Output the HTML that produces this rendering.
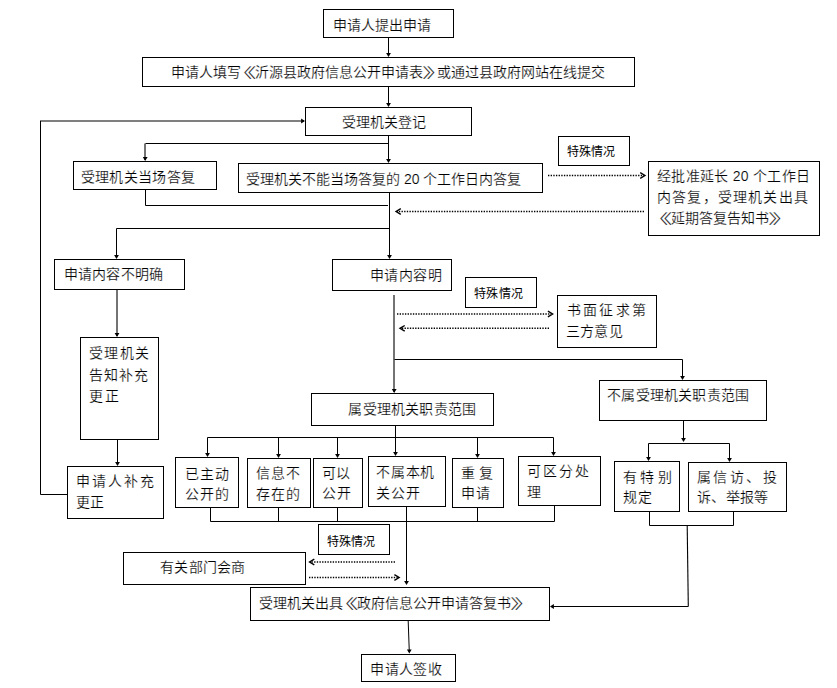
<!DOCTYPE html><html lang="zh-CN"><head><meta charset="utf-8"><title>flow</title><style>
html,body{margin:0;padding:0;background:#fff;}
#c{position:relative;width:837px;height:688px;overflow:hidden;background:#fff;font-family:"Liberation Sans",sans-serif;color:#000;}
.b{position:absolute;box-sizing:border-box;border:1px solid #000;background:#fff;}
.t{position:absolute;white-space:pre;line-height:20px;height:20px;}
.f14{font-size:14px;}.f12{font-size:12px;}.t{-webkit-text-stroke:0.2px #fff;}.f12{-webkit-text-stroke:0;}
.lq,.rq{display:inline-block;width:14px;letter-spacing:0;}.lq{transform:scaleX(1.9);transform-origin:12.3px 50%;}.rq{transform:scaleX(1.9);transform-origin:1.5px 50%;}
svg{position:absolute;left:0;top:0;}
</style></head><body><div id="c">
<svg width="837" height="688" viewBox="0 0 837 688"><line x1="388.5" y1="38" x2="388.5" y2="56" stroke="#000" stroke-width="1"/><line x1="388.5" y1="87" x2="388.5" y2="106" stroke="#000" stroke-width="1"/><line x1="40.5" y1="494.5" x2="67" y2="494.5" stroke="#000" stroke-width="1"/><line x1="40.5" y1="121" x2="40.5" y2="494.5" stroke="#000" stroke-width="1"/><line x1="40" y1="121" x2="304" y2="121" stroke="#000" stroke-width="1.1"/><line x1="388.5" y1="136" x2="388.5" y2="162" stroke="#000" stroke-width="1"/><line x1="145.5" y1="143.5" x2="388.5" y2="143.5" stroke="#000" stroke-width="1"/><line x1="145" y1="143.5" x2="145" y2="160" stroke="#000" stroke-width="1.1"/><line x1="145.5" y1="190" x2="145.5" y2="205.5" stroke="#000" stroke-width="1"/><line x1="145.5" y1="205.5" x2="388" y2="205.5" stroke="#000" stroke-width="1"/><line x1="389.5" y1="193" x2="389.5" y2="258" stroke="#000" stroke-width="1"/><line x1="116.5" y1="228.5" x2="389.5" y2="228.5" stroke="#000" stroke-width="1"/><line x1="116.5" y1="228.5" x2="116.5" y2="258" stroke="#000" stroke-width="1"/><line x1="548" y1="175.5" x2="644" y2="175.5" stroke="#000" stroke-width="1.4" stroke-dasharray="1.35 1.3"/><line x1="644" y1="211.5" x2="397" y2="211.5" stroke="#000" stroke-width="1.4" stroke-dasharray="1.35 1.3"/><line x1="117" y1="290" x2="117" y2="336" stroke="#000" stroke-width="1.1"/><line x1="117.5" y1="440" x2="117.5" y2="465" stroke="#000" stroke-width="1"/><line x1="394" y1="295" x2="394" y2="392" stroke="#000" stroke-width="1.1"/><line x1="397" y1="314" x2="551" y2="314" stroke="#000" stroke-width="1.4" stroke-dasharray="1.35 1.3"/><line x1="549" y1="328.3" x2="401" y2="328.3" stroke="#000" stroke-width="1.4" stroke-dasharray="1.35 1.3"/><line x1="394.5" y1="359.5" x2="682.5" y2="359.5" stroke="#000" stroke-width="1"/><line x1="682.5" y1="359.5" x2="682.5" y2="379" stroke="#000" stroke-width="1"/><line x1="395.5" y1="426" x2="395.5" y2="455" stroke="#000" stroke-width="1"/><line x1="207.5" y1="437.5" x2="553.5" y2="437.5" stroke="#000" stroke-width="1"/><line x1="207.5" y1="437.5" x2="207.5" y2="456" stroke="#000" stroke-width="1"/><line x1="278.5" y1="437.5" x2="278.5" y2="457" stroke="#000" stroke-width="1"/><line x1="337.5" y1="437.5" x2="337.5" y2="457" stroke="#000" stroke-width="1"/><line x1="477.5" y1="437.5" x2="477.5" y2="457" stroke="#000" stroke-width="1"/><line x1="553.5" y1="437.5" x2="553.5" y2="455" stroke="#000" stroke-width="1"/><line x1="210.5" y1="508" x2="210.5" y2="521.5" stroke="#000" stroke-width="1"/><line x1="278.5" y1="508" x2="278.5" y2="521.5" stroke="#000" stroke-width="1"/><line x1="337.5" y1="508" x2="337.5" y2="521.5" stroke="#000" stroke-width="1"/><line x1="477.5" y1="508" x2="477.5" y2="521.5" stroke="#000" stroke-width="1"/><line x1="554.5" y1="506" x2="554.5" y2="521.5" stroke="#000" stroke-width="1"/><line x1="210.5" y1="521.5" x2="554.5" y2="521.5" stroke="#000" stroke-width="1"/><line x1="406.5" y1="507" x2="406.5" y2="584" stroke="#000" stroke-width="1"/><line x1="683.5" y1="421" x2="683.5" y2="441" stroke="#000" stroke-width="1"/><line x1="648.5" y1="443.5" x2="729.5" y2="443.5" stroke="#000" stroke-width="1"/><line x1="648.5" y1="443.5" x2="648.5" y2="460" stroke="#000" stroke-width="1"/><line x1="729.5" y1="443.5" x2="729.5" y2="461" stroke="#000" stroke-width="1"/><line x1="649.5" y1="512" x2="649.5" y2="525.5" stroke="#000" stroke-width="1"/><line x1="733.5" y1="512" x2="733.5" y2="525.5" stroke="#000" stroke-width="1"/><line x1="649.5" y1="525.5" x2="733.5" y2="525.5" stroke="#000" stroke-width="1"/><line x1="687.2" y1="525.5" x2="688.3" y2="606.5" stroke="#000" stroke-width="1.1"/><line x1="688.3" y1="606.5" x2="551" y2="606.5" stroke="#000" stroke-width="1"/><line x1="395" y1="562" x2="311" y2="562" stroke="#000" stroke-width="1.4" stroke-dasharray="1.35 1.3"/><line x1="309" y1="577.5" x2="398" y2="577.5" stroke="#000" stroke-width="1.4" stroke-dasharray="1.35 1.3"/><line x1="408.2" y1="621" x2="409.3" y2="652" stroke="#000" stroke-width="1"/><polygon points="388.5,57.0 386.1,53.1 390.9,53.1" fill="#000"/><polygon points="388.5,107.0 386.1,103.1 390.9,103.1" fill="#000"/><polygon points="305.0,121.0 301.1,118.6 301.1,123.4" fill="#000"/><polygon points="388.5,163.0 386.1,159.1 390.9,159.1" fill="#000"/><polygon points="145.2,161.0 142.8,157.1 147.6,157.1" fill="#000"/><polygon points="389.5,259.0 387.1,255.1 391.9,255.1" fill="#000"/><polygon points="116.5,259.0 114.1,255.1 118.9,255.1" fill="#000"/><polyline points="640.2,172.7 644.9,175.5 640.2,178.3" fill="none" stroke="#000" stroke-width="1.4"/><polyline points="400.8,208.7 396.1,211.5 400.8,214.3" fill="none" stroke="#000" stroke-width="1.4"/><polygon points="117.0,337.0 114.6,333.1 119.4,333.1" fill="#000"/><polygon points="117.5,466.0 115.1,462.1 119.9,462.1" fill="#000"/><polygon points="394.2,393.0 391.8,389.1 396.6,389.1" fill="#000"/><polyline points="547.9,311.2 552.6,314.0 547.9,316.8" fill="none" stroke="#000" stroke-width="1.4"/><polyline points="404.7,325.5 400.0,328.3 404.7,331.1" fill="none" stroke="#000" stroke-width="1.4"/><polygon points="682.5,380.0 680.1,376.1 684.9,376.1" fill="#000"/><polygon points="395.5,456.0 393.1,452.1 397.9,452.1" fill="#000"/><polygon points="207.5,457.0 205.1,453.1 209.9,453.1" fill="#000"/><polygon points="278.5,458.0 276.1,454.1 280.9,454.1" fill="#000"/><polygon points="337.5,458.0 335.1,454.1 339.9,454.1" fill="#000"/><polygon points="477.5,458.0 475.1,454.1 479.9,454.1" fill="#000"/><polygon points="553.5,456.0 551.1,452.1 555.9,452.1" fill="#000"/><polygon points="406.5,585.0 404.1,581.1 408.9,581.1" fill="#000"/><polygon points="683.5,442.0 681.1,438.1 685.9,438.1" fill="#000"/><polygon points="648.5,461.0 646.1,457.1 650.9,457.1" fill="#000"/><polygon points="729.5,462.0 727.1,458.1 731.9,458.1" fill="#000"/><polygon points="550.0,606.5 553.9,604.1 553.9,608.9" fill="#000"/><polyline points="314.3,559.2 309.6,562.0 314.3,564.8" fill="none" stroke="#000" stroke-width="1.4"/><polyline points="394.4,574.7 399.1,577.5 394.4,580.3" fill="none" stroke="#000" stroke-width="1.4"/><polygon points="409.3,653.5 406.9,649.6 411.7,649.6" fill="#000"/></svg>
<div class="b" style="left:323px;top:9px;width:131px;height:29px"></div>
<div class="b" style="left:142px;top:57px;width:493px;height:30px"></div>
<div class="b" style="left:305px;top:107px;width:167px;height:29px"></div>
<div class="b" style="left:73px;top:161px;width:144px;height:29px"></div>
<div class="b" style="left:238px;top:163px;width:305px;height:30px"></div>
<div class="b" style="left:558px;top:136px;width:72px;height:30px"></div>
<div class="b" style="left:648px;top:161px;width:172px;height:75px"></div>
<div class="b" style="left:54px;top:259px;width:131px;height:31px"></div>
<div class="b" style="left:332px;top:259px;width:120px;height:32px"></div>
<div class="b" style="left:465px;top:277px;width:72px;height:31px"></div>
<div class="b" style="left:557px;top:295px;width:100px;height:53px"></div>
<div class="b" style="left:80px;top:337px;width:79px;height:103px"></div>
<div class="b" style="left:599px;top:380px;width:168px;height:41px"></div>
<div class="b" style="left:311px;top:393px;width:183px;height:33px"></div>
<div class="b" style="left:67px;top:466px;width:97px;height:53px"></div>
<div class="b" style="left:175px;top:457px;width:64px;height:51px"></div>
<div class="b" style="left:247px;top:458px;width:64px;height:50px"></div>
<div class="b" style="left:313px;top:458px;width:50px;height:50px"></div>
<div class="b" style="left:368px;top:456px;width:78px;height:51px"></div>
<div class="b" style="left:452px;top:458px;width:52px;height:50px"></div>
<div class="b" style="left:518px;top:456px;width:83px;height:50px"></div>
<div class="b" style="left:614px;top:461px;width:66px;height:51px"></div>
<div class="b" style="left:688px;top:462px;width:99px;height:50px"></div>
<div class="b" style="left:318px;top:524px;width:72px;height:31px"></div>
<div class="b" style="left:123px;top:552px;width:183px;height:33px"></div>
<div class="b" style="left:250px;top:587px;width:300px;height:34px"></div>
<div class="b" style="left:361px;top:654px;width:95px;height:28px"></div>
<div class="t f14" style="left:332.7px;top:14.9px">申请人提出申请</div>
<div class="t f14" style="left:170.8px;top:61.8px">申请人填写<span class="lq">《</span>沂源县政府信息公开申请表<span class="rq">》</span>或通过县政府网站在线提交</div>
<div class="t f14" style="left:341.6px;top:111.6px">受理机关登记</div>
<div class="t f14" style="left:80.8px;top:166.6px;letter-spacing:0.3px">受理机关当场答复</div>
<div class="t f14" style="left:246.0px;top:168.8px">受理机关不能当场答复的 20 个工作日内答复</div>
<div class="t f12" style="left:566.7px;top:142.0px;letter-spacing:0.2px">特殊情况</div>
<div class="t f14" style="left:657.0px;top:165.8px;letter-spacing:0.3px">经批准延长 20 个工作日</div>
<div class="t f14" style="left:657.0px;top:186.8px;letter-spacing:1.2px">内答复，受理机关出具</div>
<div class="t f14" style="left:657.2px;top:208.0px"><span class="lq">《</span>延期答复告知书<span class="rq">》</span></div>
<div class="t f14" style="left:63.9px;top:263.8px;letter-spacing:0.2px">申请内容不明确</div>
<div class="t f14" style="left:369.8px;top:265.4px;letter-spacing:0.5px">申请内容明</div>
<div class="t f12" style="left:473.8px;top:284.1px;letter-spacing:0.5px">特殊情况</div>
<div class="t f14" style="left:566.5px;top:300.1px;letter-spacing:2.4px">书面征求第</div>
<div class="t f14" style="left:566.3px;top:321.3px;letter-spacing:0.1px">三方意见</div>
<div class="t f14" style="left:89.2px;top:343.0px;letter-spacing:1.2px">受理机关</div>
<div class="t f14" style="left:89.2px;top:364.5px;letter-spacing:1.1px">告知补充</div>
<div class="t f14" style="left:89.2px;top:385.6px;letter-spacing:1.5px">更正</div>
<div class="t f14" style="left:607.3px;top:384.6px;letter-spacing:0.2px">不属受理机关职责范围</div>
<div class="t f14" style="left:348.4px;top:398.6px;letter-spacing:0.2px">属受理机关职责范围</div>
<div class="t f14" style="left:76.4px;top:471.3px;letter-spacing:1.8px">申请人补充</div>
<div class="t f14" style="left:76.0px;top:491.9px;letter-spacing:0.2px">更正</div>
<div class="t f14" style="left:184.5px;top:463.6px;letter-spacing:1.1px">已主动</div>
<div class="t f14" style="left:184.5px;top:484.2px;letter-spacing:1.0px">公开的</div>
<div class="t f14" style="left:255.5px;top:463.2px;letter-spacing:1.0px">信息不</div>
<div class="t f14" style="left:255.5px;top:483.8px;letter-spacing:1.0px">存在的</div>
<div class="t f14" style="left:321.9px;top:462.9px;letter-spacing:0.5px">可以</div>
<div class="t f14" style="left:321.9px;top:483.4px;letter-spacing:0.8px">公开</div>
<div class="t f14" style="left:376.3px;top:461.9px;letter-spacing:0.7px">不属本机</div>
<div class="t f14" style="left:376.3px;top:482.5px;letter-spacing:0.8px">关公开</div>
<div class="t f14" style="left:460.6px;top:462.9px;letter-spacing:4.0px">重复</div>
<div class="t f14" style="left:460.6px;top:483.3px;letter-spacing:1.0px">申请</div>
<div class="t f14" style="left:526.9px;top:461.4px;letter-spacing:2.0px">可区分处</div>
<div class="t f14" style="left:526.9px;top:481.5px">理</div>
<div class="t f14" style="left:622.6px;top:466.9px;letter-spacing:3.5px">有特别</div>
<div class="t f14" style="left:622.6px;top:487.0px;letter-spacing:1.5px">规定</div>
<div class="t f14" style="left:697.0px;top:466.6px;letter-spacing:2.4px">属信访、投</div>
<div class="t f14" style="left:697.0px;top:487.1px;letter-spacing:0.3px">诉、举报等</div>
<div class="t f12" style="left:327.3px;top:531.6px">特殊情况</div>
<div class="t f14" style="left:160.2px;top:556.9px;letter-spacing:0.2px">有关部门会商</div>
<div class="t f14" style="left:258.8px;top:593.3px">受理机关出具<span class="lq">《</span>政府信息公开申请答复书<span class="rq">》</span></div>
<div class="t f14" style="left:370.4px;top:658.6px;letter-spacing:0.3px">申请人签收</div>
</div></body></html>
